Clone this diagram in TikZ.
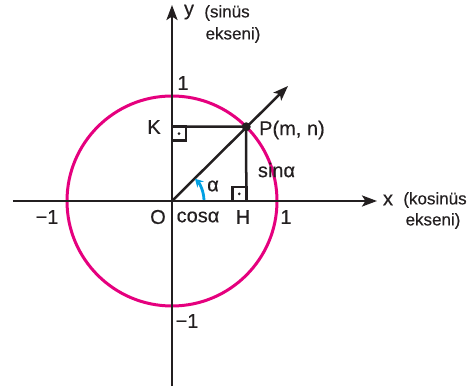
\documentclass[tikz,border=0pt]{standalone}
\usepackage{fontspec}
\setmainfont{Liberation Sans}[FakeBold=0.3]
\usetikzlibrary{arrows.meta,calc}
\definecolor{ink}{RGB}{35,31,32}
\definecolor{mag}{RGB}{229,0,126}
\definecolor{cy}{RGB}{0,160,227}
\begin{document}
\begin{tikzpicture}[x=1pt,y=1pt,
  axis/.style={draw=ink,line width=2.5pt,-{Stealth[length=15pt,width=11pt,inset=3.5pt]}},
  seg/.style={draw=ink,line width=2.5pt},
  lbl/.style={inner sep=0pt,text=ink,font=\fontsize{20}{22}\selectfont},
  sub/.style={inner sep=0pt,text=ink,font=\fontsize{17}{19}\selectfont},
  rbox/.style={draw=ink,line width=2.5pt}]
\useasboundingbox (-172,-189) rectangle (304,201);
\coordinate (O) at (0,0);
\coordinate (xs) at (-159,0);
\coordinate (xe) at (205,0);
\coordinate (ys) at (0,-185);
\coordinate (ye) at (0,196);
\coordinate (P) at (45:105);
\coordinate (K) at (0,74.25);
\coordinate (H) at (74.25,0);
\coordinate (R) at (116,115);
% circle
\draw[mag,line width=3pt] (O) circle (105);
% axes
\draw[axis] (xs) -- (xe);
\draw[axis] (ys) -- (ye);
% ray
\draw[axis] (O) -- (R);
% projections
\draw[seg] (K) -- (P) -- (H);
% right angle boxes
\draw[rbox] (K) rectangle ++(14,-14);
\fill[ink] ($(K)+(7,-7)$) circle (1.5);
\draw[rbox] (H) rectangle ++(-14,14);
\fill[ink] ($(H)+(-7,7)$) circle (1.5);
% point P
\fill[ink] (P) circle (4.5);
% alpha arc
\draw[cy,line width=2.8pt,-{Stealth[length=8pt,width=9pt]}] (2:32) arc (2:44:32);
% labels
\node[lbl] (lK) at (-18,74) {K};
\node[lbl] (lO) at (-14,-16) {O};
\node[lbl] (lcos) at (26,-16) {cosα};
\node[lbl] (lH) at (71,-16) {H};
\node[lbl] (l1x) at (114,-16) {1};
\node[lbl] (lm1x) at (-125,-16) {−1};
\node[lbl] (l1y) at (11,118) {1};
\node[lbl] (lm1y) at (15,-120) {−1};
\node[lbl] (la) at (41,15) {α};
\node[lbl] (lsin) at (104.5,31) {sinα};
\node[lbl,anchor=west] (lP) at (87,71) {P(m, n)};
\node[lbl] (lx) at (216,1) {x};
\node[sub] (lx2) at (263,1) {(kosinüs};
\node[sub] (lx3) at (261,-20) {ekseni)};
\node[lbl] (ly) at (17,189) {y};
\node[sub] (ly2) at (55,188) {(sinüs};
\node[sub] (ly3) at (61,166) {ekseni)};
\end{tikzpicture}
\end{document}
